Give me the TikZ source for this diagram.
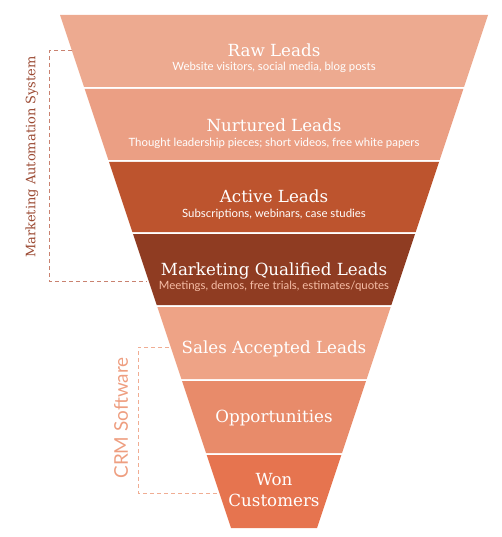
\documentclass[tikz,border=0pt]{standalone}
\usepackage{fontspec}
\setmainfont{DejaVu Serif}
\newfontfamily\subfont{Lato}
\usetikzlibrary{positioning}
\definecolor{rawc}{HTML}{EDAA90}
\definecolor{nurc}{HTML}{EB9F84}
\definecolor{actc}{HTML}{BD542E}
\definecolor{mqlc}{HTML}{8F3C22}
\definecolor{salc}{HTML}{EEA386}
\definecolor{oppc}{HTML}{E88B6A}
\definecolor{wonc}{HTML}{E6744F}
\definecolor{masc}{HTML}{9B4A33}
\definecolor{masline}{HTML}{C98270}
\definecolor{crmc}{HTML}{EE9E80}
\definecolor{peach}{HTML}{F6BDA6}

\begin{document}
\begin{tikzpicture}[
  x=1pt, y=-1pt,
  stagetitle/.style={text=white, anchor=base, font=\fontsize{16.7}{21}\selectfont},
  stagesub/.style={text=white, anchor=base, font=\subfont\fontsize{11.4}{13}\selectfont},
  bracket/.style={line width=1pt, dash pattern=on 4pt off 3pt},
  sidelabel/.style={rotate=90, anchor=center}
]
\useasboundingbox (0,0) rectangle (501,537);
% funnel bands, top to bottom
\foreach \ya/\yb/\col in {15/87/rawc, 89/160/nurc, 162/232/actc, 234/305/mqlc,
    307/379/salc, 381/453/oppc, 455/528/wonc}
  \fill[\col] ({60+(\ya-15)/3},\ya) -- ({488-(\ya-15)/3},\ya)
    -- ({488-(\yb-15)/3},\yb) -- ({60+(\yb-15)/3},\yb) -- cycle;

\node[stagetitle] (raw) at (274,57) {Raw Leads};
\node[stagesub] (rawsub) at (274,71) {Website visitors, social media, blog posts};
\node[stagetitle] (nurt) at (274,132) {Nurtured Leads};
\node[stagesub] (nurtsub) at (274,147) {Thought leadership pieces; short videos, free white papers};
\node[stagetitle] (act) at (274,202) {Active Leads};
\node[stagesub] (actsub) at (274,217) {Subscriptions, webinars, case studies};
\node[stagetitle] (mql) at (274,275) {Marketing Qualified Leads};
\node[stagesub, text=peach] (mqlsub) at (274,289) {Meetings, demos, free trials, estimates/quotes};
\node[stagetitle] (sal) at (274,353) {Sales Accepted Leads};
\node[stagetitle] (opp) at (274,422) {Opportunities};
\node[stagetitle, anchor=center, align=center] (won) at (274,490) {Won\\Customers};

% tool brackets
\coordinate (mastop) at (72,51);
\coordinate (masbot) at (147,281);
\draw[bracket, masline] (mastop) -- ++(-23,0) |- (masbot);
\node[sidelabel, text=masc, font=\fontsize{13}{15}\selectfont] (mas) at (32,157)
  {Marketing Automation System};
\coordinate (crmtop) at (169,347);
\coordinate (crmbot) at (217,493);
\draw[bracket, crmc!85] (crmtop) -- ++(-31,0) |- (crmbot);
\node[sidelabel, text=crmc, font=\subfont\fontsize{18.9}{22}\selectfont] (crm) at (121,418)
  {CRM Software};
\end{tikzpicture}
\end{document}
